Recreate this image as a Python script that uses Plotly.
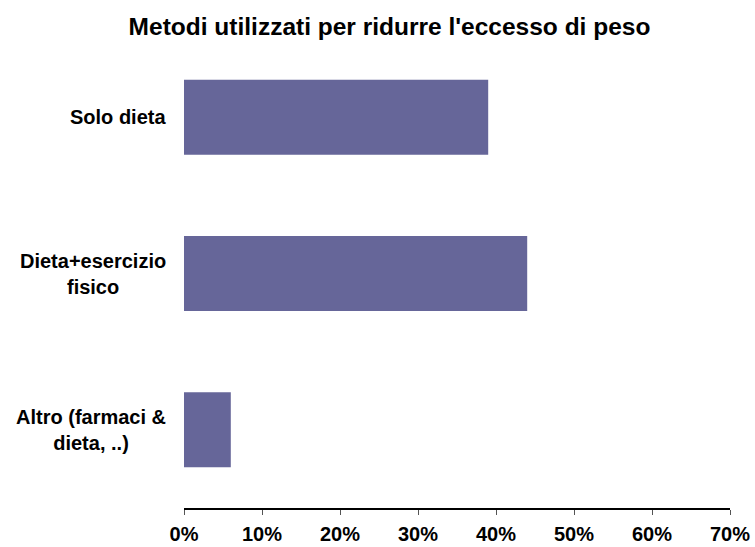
import plotly.graph_objects as go

categories = ["Solo dieta", "Dieta+esercizio<br>fisico", "Altro (farmaci &<br>dieta, ..)"]
values = [39, 44, 6]
x_ticks = [0, 10, 20, 30, 40, 50, 60, 70]

W, H = 755, 547
FONT = "Liberation Sans, Arial, sans-serif"
BAR_COLOR = "#666699"

fig = go.Figure(
    go.Bar(
        x=values,
        y=categories,
        orientation="h",
        marker=dict(color=BAR_COLOR, line=dict(width=0)),
        hoverinfo="x+y",
    )
)

fig.update_layout(
    width=W,
    height=H,
    margin=dict(l=184, r=25, t=39, b=39),
    paper_bgcolor="white",
    plot_bgcolor="white",
    bargap=0.52,
    showlegend=False,
    font=dict(family=FONT, color="black"),
    title=dict(
        text="<b>Metodi utilizzati per ridurre l'eccesso di peso</b>",
        x=389.5 / W,
        xanchor="center",
        xref="container",
        y=1 - 26 / H,
        yanchor="middle",
        yref="container",
        font=dict(family=FONT, size=24.5, color="black"),
    ),
)

fig.update_xaxes(
    range=[0, 70],
    tickvals=x_ticks,
    ticktext=[f"<b>{v}%</b>" for v in x_ticks],
    tickfont=dict(family=FONT, size=20, color="black"),
    ticklabelstandoff=2,
    showline=True,
    linecolor="black",
    linewidth=1.5,
    ticks="outside",
    ticklen=5,
    tickwidth=1,
    tickcolor="#555555",
    showgrid=False,
    zeroline=False,
    automargin=False,
    fixedrange=True,
)

fig.update_yaxes(
    categoryorder="array",
    categoryarray=categories[::-1],
    showticklabels=False,
    showline=False,
    showgrid=False,
    zeroline=False,
    ticks="",
    automargin=False,
    fixedrange=True,
)

# Category labels: block right-aligned to the axis, lines centred within the block
for cat in categories:
    fig.add_annotation(
        x=0,
        xref="paper",
        y=cat,
        yref="y",
        text=f"<b>{cat}</b>",
        showarrow=False,
        xanchor="right",
        yanchor="middle",
        align="center",
        xshift=-16,
        font=dict(family=FONT, size=20, color="black"),
    )

fig.write_html("out.html")
